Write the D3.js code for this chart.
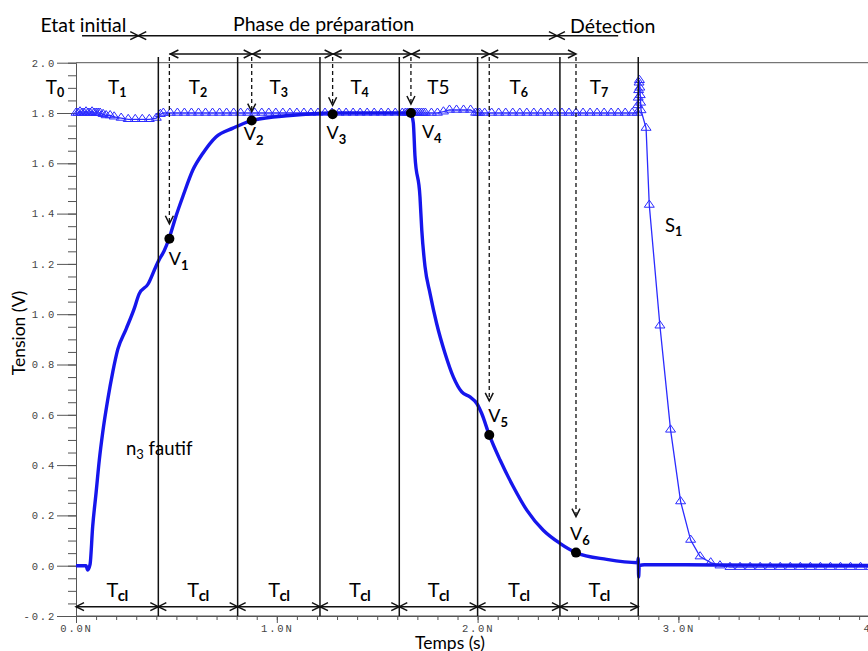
<!DOCTYPE html>
<html><head><meta charset="utf-8">
<script src="https://cdn.jsdelivr.net/npm/d3@7"></script>
<style>
html,body{margin:0;padding:0;background:#fff;}
svg{display:block;}
</style></head>
<body>
<svg id="chart" width="868" height="651"></svg>
<script>
// ================= DATA =================
const yTicksMajor = [-0.2, 0.0, 0.2, 0.4, 0.6, 0.8, 1.0, 1.2, 1.4, 1.6, 1.8, 2.0];
const xTicksMajor = [0, 1, 2, 3, 4];
const xTickLabels = ["0.0N", "1.0N", "2.0N", "3.0N", "4.0N"];

// ends of the Tcl cycles (s)
const boundaries = [0.41, 0.805, 1.215, 1.61, 2.0, 2.41, 2.80];
const periodStart = -0.21;
const periodMain = ["T", "T", "T", "T", "T", "T5", "T", "T"];
const periodSub  = ["0", "1", "2", "3", "4", "", "6", "7"];
const cycleMain = "T", cycleSub = "cl";

// sampling instants and sampled voltages
const sampleT = [0.465, 0.875, 1.278, 1.668, 2.058, 2.49];
const sampleV = [1.30, 1.77, 1.795, 1.80, 0.52, 0.052];
const sampleSub = ["1", "2", "3", "4", "5", "6"];

// phases (top annotation)
const phaseNames = ["Etat initial", "Phase de préparation", "Détection"];
const phaseEdges = [0.03, 0.31, 2.395, 2.70];

// main node voltage (thick curve)
const mainCurve = [
  [0,0],[0.05,0],[0.058,-0.017],[0.07,0.005],[0.083,0.155],[0.10,0.29],[0.116,0.42],
  [0.133,0.53],[0.158,0.66],[0.183,0.77],[0.208,0.86],[0.249,0.94],[0.289,1.02],
  [0.314,1.08],[0.359,1.12],[0.398,1.19],[0.413,1.215],[0.438,1.25],[0.463,1.30],
  [0.498,1.39],[0.533,1.47],[0.583,1.575],[0.632,1.64],[0.697,1.705],[0.782,1.74],
  [0.875,1.77],[1.066,1.79],[1.265,1.80],[1.663,1.80],[1.672,1.79],[1.680,1.76],
  [1.688,1.63],[1.713,1.467],[1.722,1.334],[1.738,1.19],[1.763,1.083],[1.796,0.963],
  [1.838,0.844],[1.879,0.751],[1.921,0.691],[1.962,0.671],[1.996,0.645],[2.020,0.606],
  [2.058,0.52],[2.112,0.42],[2.178,0.314],[2.245,0.221],[2.327,0.141],[2.41,0.089],
  [2.49,0.052],[2.643,0.025],[2.798,0.012],[2.800,0.03],[2.802,-0.045],[2.805,0.0],
  [2.83,0.004],[3.2,0.003],[4.0,0.001]
];

// S1 output (thin curve with triangle markers)
const s1Curve = [
  [0,1.80],[0.01,1.80],[0.02,1.805],[0.03,1.80],[0.04,1.80],[0.05,1.805],[0.06,1.80],
  [0.07,1.80],[0.08,1.805],[0.09,1.80],[0.10,1.80],[0.11,1.80],[0.12,1.80],[0.135,1.795],
  [0.15,1.79],[0.17,1.79],[0.19,1.785],[0.225,1.78],[0.26,1.775],[0.295,1.775],
  [0.33,1.775],[0.365,1.775],[0.40,1.78],[0.42,1.795],[0.435,1.80],[0.47,1.80],
  [0.505,1.80],[0.54,1.80],[0.575,1.80],[0.61,1.80],[0.645,1.80],[0.68,1.80],[0.715,1.80],
  [0.75,1.80],[0.785,1.80],[0.82,1.80],[0.855,1.80],[0.89,1.80],[0.925,1.80],[0.96,1.80],
  [0.995,1.80],[1.03,1.80],[1.065,1.80],[1.10,1.80],[1.135,1.80],[1.17,1.80],[1.205,1.80],
  [1.24,1.80],[1.275,1.80],[1.31,1.80],[1.345,1.80],[1.38,1.80],[1.415,1.80],[1.45,1.80],
  [1.485,1.80],[1.52,1.80],[1.555,1.80],[1.59,1.80],[1.625,1.80],[1.64,1.80],[1.65,1.80],
  [1.66,1.80],[1.67,1.80],[1.68,1.80],[1.69,1.80],[1.70,1.80],[1.71,1.80],[1.72,1.80],
  [1.73,1.80],[1.74,1.80],[1.77,1.80],[1.80,1.80],[1.83,1.805],[1.86,1.812],[1.895,1.812],
  [1.93,1.812],[1.965,1.812],[1.99,1.80],[2.0,1.80],[2.01,1.80],[2.035,1.80],[2.07,1.80],
  [2.105,1.80],[2.14,1.80],[2.175,1.80],[2.21,1.80],[2.245,1.80],[2.28,1.80],[2.315,1.80],
  [2.35,1.80],[2.385,1.80],[2.42,1.80],[2.455,1.80],[2.49,1.80],[2.525,1.80],[2.56,1.80],
  [2.595,1.80],[2.63,1.80],[2.665,1.80],[2.70,1.80],[2.735,1.80],[2.77,1.80],
  [2.795,1.80],[2.798,1.83],[2.800,1.86],[2.802,1.89],[2.804,1.92],[2.806,1.93],
  [2.808,1.90],[2.810,1.87],[2.812,1.84],[2.814,1.81],
  [2.839,1.74],[2.855,1.434],[2.908,0.954],[2.961,0.54],[3.011,0.255],[3.061,0.102],
  [3.108,0.036],[3.161,0.012],[3.207,0.0],[3.257,-0.006],[3.307,-0.006],[3.357,-0.006],
  [3.407,-0.006],[3.457,-0.006],[3.507,-0.006],[3.557,-0.006],[3.607,-0.006],[3.657,-0.006],
  [3.707,-0.006],[3.757,-0.006],[3.807,-0.006],[3.857,-0.006],[3.907,-0.006],[3.957,-0.006],
  [4.0,-0.006]
];

// ================= LAYOUT / STYLE =================
const W = 868, H = 651;
const svg = d3.select("#chart");
const x = d3.scaleLinear().domain([0, 4]).range([76, 879.2]);
const y = d3.scaleLinear().domain([-0.2, 2.0]).range([616, 62.7]);
const FONT = "Lato, 'Open Sans', sans-serif";
const MONO = "'Liberation Mono', 'DejaVu Sans Mono', monospace";
const BLUE = "#1616ec";
const BLUE2 = "#2b2bff";
const INK = "#111";

svg.append("line").attr("x1", x(0)).attr("x2", W).attr("y1", y(2.0)).attr("y2", y(2.0))
  .attr("stroke", "#555").attr("stroke-width", 1);

// Y axis
const gy = svg.append("g").attr("transform", `translate(${x(0)},0)`);
gy.call(d3.axisLeft(y).tickValues(d3.range(-0.2, 2.0001, 0.05)).tickSize(8).tickSizeOuter(0).tickFormat(""));
const gy2 = svg.append("g").attr("transform", `translate(${x(0)},0)`);
gy2.call(d3.axisLeft(y).tickValues(yTicksMajor).tickSize(19).tickSizeOuter(0).tickPadding(1)
  .tickFormat(d => d.toFixed(1)));
gy2.select(".domain").remove();
[gy, gy2].forEach(g => {
  g.select(".domain").attr("stroke", "#555");
  g.selectAll("line").attr("stroke", "#555");
  g.selectAll("text").attr("font-family", MONO).attr("font-size", 10.5).attr("fill", "#444")
    .attr("letter-spacing", "1.8px");
});

// X axis
const gx = svg.append("g").attr("transform", `translate(0,${y(-0.2)})`);
gx.call(d3.axisBottom(x).tickValues(d3.range(0, 4.001, 0.1)).tickSize(4).tickSizeOuter(0).tickFormat(""));
const gx2 = svg.append("g").attr("transform", `translate(0,${y(-0.2)})`);
gx2.call(d3.axisBottom(x).tickValues(xTicksMajor).tickSize(7).tickSizeOuter(0).tickPadding(2)
  .tickFormat((d, i) => xTickLabels[i]));
gx2.select(".domain").remove();
[gx, gx2].forEach(g => {
  g.select(".domain").attr("stroke", "#555");
  g.selectAll("line").attr("stroke", "#555");
  g.selectAll("text").attr("font-family", MONO).attr("font-size", 10.5).attr("fill", "#444")
    .attr("letter-spacing", "1.8px");
});
svg.append("line").attr("x1", x(0)).attr("x2", W).attr("y1", y(-0.2)).attr("y2", y(-0.2))
  .attr("stroke", "#555");

// ---------- curves ----------
const lineGen = d3.line().x(d => x(d[0])).y(d => y(d[1])).curve(d3.curveMonotoneX);
const lineLin = d3.line().x(d => x(d[0])).y(d => y(d[1]));

svg.append("path").datum(s1Curve).attr("d", lineLin).attr("fill", "none")
  .attr("stroke", BLUE2).attr("stroke-width", 1.3);
svg.append("g").selectAll("path").data(s1Curve).join("path")
  .attr("transform", d => `translate(${x(d[0])},${y(d[1])})`)
  .attr("d", "M0,-5L5,2.2L-5,2.2Z")
  .attr("fill", "none").attr("stroke", BLUE2).attr("stroke-width", 1);

svg.append("path").datum(mainCurve).attr("d", lineGen).attr("fill", "none")
  .attr("stroke", BLUE).attr("stroke-width", 3.4).attr("stroke-linejoin", "round");

// ---------- annotations ----------
const ann = svg.append("g").attr("stroke", INK).attr("fill", "none").attr("stroke-width", 1.5);
function chevron(tx, ty, dir) {
  let d;
  if (dir === "right") d = `M${tx - 8},${ty - 4}L${tx},${ty}L${tx - 8},${ty + 4}`;
  else if (dir === "left") d = `M${tx + 8},${ty - 4}L${tx},${ty}L${tx + 8},${ty + 4}`;
  else d = `M${tx - 4},${ty - 8}L${tx},${ty}L${tx + 4},${ty - 8}`;
  ann.append("path").attr("d", d);
}
function hline(x1, x2, yy) {
  ann.append("line").attr("x1", x1).attr("x2", x2).attr("y1", yy).attr("y2", yy);
}
const lineTop = 57;
boundaries.forEach(b => {
  ann.append("line").attr("x1", x(b)).attr("x2", x(b)).attr("y1", lineTop).attr("y2", y(-0.2));
});
const tipGap = [15, 9, 9, 9, 34, 36];
sampleT.forEach((t, i) => {
  const tip = y(sampleV[i]) - tipGap[i];
  ann.append("line").attr("x1", x(t)).attr("x2", x(t)).attr("y1", lineTop).attr("y2", tip)
    .attr("stroke-dasharray", "4,3").attr("stroke-width", 1.3);
  chevron(x(t), tip, "down");
});
const row2 = 54;
for (let i = 0; i < sampleT.length - 1; i++) {
  hline(x(sampleT[i]), x(sampleT[i + 1]), row2);
  chevron(x(sampleT[i]) + 1, row2, "left");
  chevron(x(sampleT[i + 1]), row2, "right");
}
const cycEdges = [0].concat(boundaries);
const rowB = 606.7;
for (let i = 0; i < cycEdges.length - 1; i++) {
  hline(x(cycEdges[i]), x(cycEdges[i + 1]), rowB);
  chevron(x(cycEdges[i]), rowB, "left");
  chevron(x(cycEdges[i + 1]), rowB, "right");
}
const row1 = 35.7;
hline(x(phaseEdges[0]), x(phaseEdges[1]), row1);
chevron(x(phaseEdges[1]), row1, "right");
hline(x(phaseEdges[1]), x(phaseEdges[2]), row1);
chevron(x(phaseEdges[1]), row1, "left");
chevron(x(phaseEdges[2]), row1, "right");
hline(x(phaseEdges[2]), x(phaseEdges[3]), row1);
chevron(x(phaseEdges[2]), row1, "left");

svg.append("g").selectAll("circle").data(sampleT).join("circle")
  .attr("cx", d => x(d)).attr("cy", (d, i) => y(sampleV[i])).attr("r", 5).attr("fill", "#000");

// ---------- texts ----------
const txt = svg.append("g").attr("font-family", FONT).attr("fill", "#000");
function subText(px, py, main, sub, size, subSize, anchor, shift) {
  const t = txt.append("text").attr("x", px).attr("y", py).attr("font-size", size)
    .attr("text-anchor", anchor || "start");
  t.append("tspan").text(main);
  if (sub) t.append("tspan").attr("font-size", subSize).attr("font-weight", "bold")
    .attr("dy", shift).text(sub);
  return t;
}
const phasePos = [[40.5, 31.5], [233, 30.5], [570, 33]];
phaseNames.forEach((n, i) => {
  txt.append("text").attr("x", phasePos[i][0]).attr("y", phasePos[i][1])
    .attr("font-size", 19.5).text(n);
});
const pEdges = [periodStart, 0].concat(boundaries);
periodMain.forEach((m, i) => {
  const cx = (x(pEdges[i]) + x(pEdges[i + 1])) / 2;
  subText(cx, 94.3, m, periodSub[i], 19, 12.5, "middle", 3);
});
for (let i = 0; i < cycEdges.length - 1; i++) {
  const cx = (x(cycEdges[i]) + x(cycEdges[i + 1])) / 2;
  subText(cx, 596.7, cycleMain, cycleSub, 20, 15, "middle", 4).attr("letter-spacing", "-0.5px");
}
const vOff = [[-0.6, 26], [-8, 19], [-6, 25], [11, 25], [-1, -13], [-6, -13]];
sampleT.forEach((t, i) => {
  subText(x(t) + vOff[i][0], y(sampleV[i]) + vOff[i][1], "V", sampleSub[i], 18, 13, "start", 5);
});
const nf = txt.append("text").attr("x", 126).attr("y", 455).attr("font-size", 18.5);
nf.append("tspan").text("n");
nf.append("tspan").attr("font-size", 13).attr("dy", 4).text("3");
nf.append("tspan").attr("dy", -4).text(" fautif");
subText(665, 231.5, "S", "1", 18.5, 12.5, "start", 4);
txt.append("text").attr("transform", "translate(25,333) rotate(-90)").attr("text-anchor", "middle")
  .attr("font-size", 17.5).text("Tension (V)");
txt.append("text").attr("x", 450).attr("y", 648.5).attr("text-anchor", "middle")
  .attr("font-size", 17.5).text("Temps (s)");
</script>
</body></html>
